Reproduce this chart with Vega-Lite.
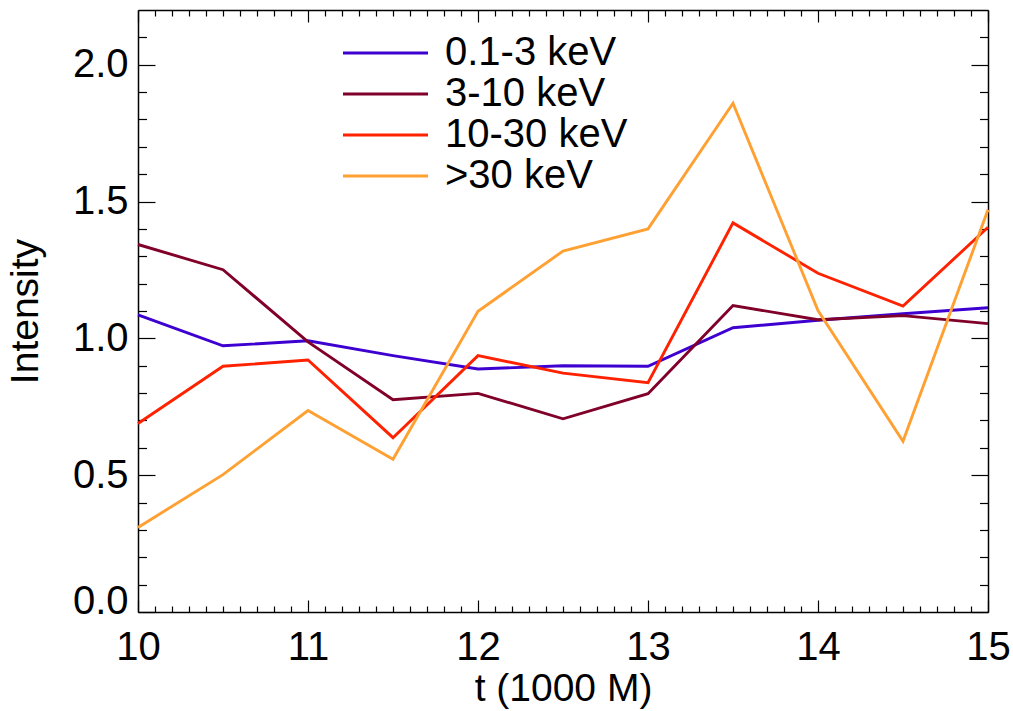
{
  "$schema": "https://vega.github.io/schema/vega-lite/v6.json",
  "width": 850,
  "height": 602,
  "autosize": {"type": "none"},
  "padding": {"left": 138, "top": 10, "right": 25, "bottom": 99},
  "background": "white",
  "config": {
    "view": {"stroke": null},
    "font": "Liberation Sans",
    "axis": {
      "grid": false,
      "domainColor": "black",
      "domainWidth": 1.5,
      "tickColor": "black",
      "tickWidth": 1.2,
      "labelFont": "Liberation Sans",
      "labelFontSize": 40,
      "labelColor": "black",
      "titleFont": "Liberation Sans",
      "titleFontSize": 39,
      "titleFontWeight": "normal",
      "titleColor": "black"
    }
  },
  "data": {
    "values": [
      {"t": 10.0, "band": "0.1-3 keV", "I": 1.086},
      {"t": 10.5, "band": "0.1-3 keV", "I": 0.973},
      {"t": 11.0, "band": "0.1-3 keV", "I": 0.991},
      {"t": 11.5, "band": "0.1-3 keV", "I": 0.937},
      {"t": 12.0, "band": "0.1-3 keV", "I": 0.888},
      {"t": 12.5, "band": "0.1-3 keV", "I": 0.900},
      {"t": 13.0, "band": "0.1-3 keV", "I": 0.898},
      {"t": 13.5, "band": "0.1-3 keV", "I": 1.039},
      {"t": 14.0, "band": "0.1-3 keV", "I": 1.066},
      {"t": 14.5, "band": "0.1-3 keV", "I": 1.090},
      {"t": 15.0, "band": "0.1-3 keV", "I": 1.112},
      {"t": 10.0, "band": "3-10 keV", "I": 1.343},
      {"t": 10.5, "band": "3-10 keV", "I": 1.251},
      {"t": 11.0, "band": "3-10 keV", "I": 0.987},
      {"t": 11.5, "band": "3-10 keV", "I": 0.776},
      {"t": 12.0, "band": "3-10 keV", "I": 0.799},
      {"t": 12.5, "band": "3-10 keV", "I": 0.706},
      {"t": 13.0, "band": "3-10 keV", "I": 0.798},
      {"t": 13.5, "band": "3-10 keV", "I": 1.120},
      {"t": 14.0, "band": "3-10 keV", "I": 1.068},
      {"t": 14.5, "band": "3-10 keV", "I": 1.083},
      {"t": 15.0, "band": "3-10 keV", "I": 1.054},
      {"t": 10.0, "band": "10-30 keV", "I": 0.689},
      {"t": 10.5, "band": "10-30 keV", "I": 0.898},
      {"t": 11.0, "band": "10-30 keV", "I": 0.921},
      {"t": 11.5, "band": "10-30 keV", "I": 0.637},
      {"t": 12.0, "band": "10-30 keV", "I": 0.937},
      {"t": 12.5, "band": "10-30 keV", "I": 0.873},
      {"t": 13.0, "band": "10-30 keV", "I": 0.838},
      {"t": 13.5, "band": "10-30 keV", "I": 1.422},
      {"t": 14.0, "band": "10-30 keV", "I": 1.238},
      {"t": 14.5, "band": "10-30 keV", "I": 1.118},
      {"t": 15.0, "band": "10-30 keV", "I": 1.406},
      {"t": 10.0, "band": ">30 keV", "I": 0.309},
      {"t": 10.5, "band": ">30 keV", "I": 0.502},
      {"t": 11.0, "band": ">30 keV", "I": 0.736},
      {"t": 11.5, "band": ">30 keV", "I": 0.558},
      {"t": 12.0, "band": ">30 keV", "I": 1.099},
      {"t": 12.5, "band": ">30 keV", "I": 1.319},
      {"t": 13.0, "band": ">30 keV", "I": 1.400},
      {"t": 13.5, "band": ">30 keV", "I": 1.859},
      {"t": 14.0, "band": ">30 keV", "I": 1.102},
      {"t": 14.5, "band": ">30 keV", "I": 0.624},
      {"t": 15.0, "band": ">30 keV", "I": 1.470}
    ]
  },
  "encoding": {
    "x": {"field": "t", "type": "quantitative", "scale": {"domain": [10, 15], "nice": false, "zero": false}},
    "y": {"field": "I", "type": "quantitative", "scale": {"domain": [0, 2.2], "nice": false}},
    "detail": {"field": "band"}
  },
  "layer": [
    {
      "mark": {"type": "line", "strokeWidth": 2.9},
      "encoding": {
        "x": {"field": "t", "type": "quantitative",
          "axis": {"orient": "bottom", "title": "t (1000 M)", "values": [10, 11, 12, 13, 14, 15],
            "format": "d", "tickSize": -12, "labelPadding": 27, "titlePadding": 2, "labelFlush": false}},
        "y": {"field": "I", "type": "quantitative",
          "axis": {"orient": "left", "title": "Intensity", "values": [0, 0.5, 1, 1.5, 2],
            "format": ".1f", "tickSize": -17, "labelPadding": 27, "titlePadding": 27,
            "labelFlush": true, "labelFlushOffset": 9}},
        "color": {"field": "band", "type": "nominal",
          "scale": {"domain": ["0.1-3 keV", "3-10 keV", "10-30 keV", ">30 keV"],
            "range": ["#3d00d0", "#80002a", "#ff2200", "#ffa033"]},
          "legend": {"orient": "none", "legendX": 227.5, "legendY": 23, "title": null,
            "symbolType": "M-2.5,0H2.5", "symbolSize": 1156, "symbolStrokeWidth": 3,
            "labelFont": "Liberation Sans", "labelFontSize": 40, "labelColor": "black",
            "labelOffset": 39.5, "rowPadding": 1, "labelLimit": 400}}
      }
    },
    {
      "mark": {"type": "line", "strokeOpacity": 0},
      "encoding": {
        "x": {"field": "t", "type": "quantitative",
          "axis": {"orient": "bottom", "title": null, "labels": false, "domain": false, "tickSize": -6,
            "values": [10.1, 10.2, 10.3, 10.4, 10.5, 10.6, 10.7, 10.8, 10.9,
                       11.1, 11.2, 11.3, 11.4, 11.5, 11.6, 11.7, 11.8, 11.9,
                       12.1, 12.2, 12.3, 12.4, 12.5, 12.6, 12.7, 12.8, 12.9,
                       13.1, 13.2, 13.3, 13.4, 13.5, 13.6, 13.7, 13.8, 13.9,
                       14.1, 14.2, 14.3, 14.4, 14.5, 14.6, 14.7, 14.8, 14.9]}},
        "y": {"field": "I", "type": "quantitative",
          "axis": {"orient": "left", "title": null, "labels": false, "domain": false, "tickSize": -8.5,
            "values": [0.1, 0.2, 0.3, 0.4, 0.6, 0.7, 0.8, 0.9, 1.1, 1.2, 1.3, 1.4, 1.6, 1.7, 1.8, 1.9, 2.1]}}
      }
    },
    {
      "mark": {"type": "line", "strokeOpacity": 0},
      "encoding": {
        "x": {"field": "t", "type": "quantitative",
          "axis": {"orient": "top", "title": null, "labels": false, "tickSize": -12, "values": [10, 11, 12, 13, 14, 15]}},
        "y": {"field": "I", "type": "quantitative",
          "axis": {"orient": "right", "title": null, "labels": false, "tickSize": -17, "values": [0, 0.5, 1, 1.5, 2]}}
      }
    },
    {
      "mark": {"type": "line", "strokeOpacity": 0},
      "encoding": {
        "x": {"field": "t", "type": "quantitative",
          "axis": {"orient": "top", "title": null, "labels": false, "domain": false, "tickSize": -6,
            "values": [10.1, 10.2, 10.3, 10.4, 10.5, 10.6, 10.7, 10.8, 10.9,
                       11.1, 11.2, 11.3, 11.4, 11.5, 11.6, 11.7, 11.8, 11.9,
                       12.1, 12.2, 12.3, 12.4, 12.5, 12.6, 12.7, 12.8, 12.9,
                       13.1, 13.2, 13.3, 13.4, 13.5, 13.6, 13.7, 13.8, 13.9,
                       14.1, 14.2, 14.3, 14.4, 14.5, 14.6, 14.7, 14.8, 14.9]}},
        "y": {"field": "I", "type": "quantitative",
          "axis": {"orient": "right", "title": null, "labels": false, "domain": false, "tickSize": -8.5,
            "values": [0.1, 0.2, 0.3, 0.4, 0.6, 0.7, 0.8, 0.9, 1.1, 1.2, 1.3, 1.4, 1.6, 1.7, 1.8, 1.9, 2.1]}}
      }
    }
  ],
  "resolve": {"axis": {"x": "independent", "y": "independent"}}
}
